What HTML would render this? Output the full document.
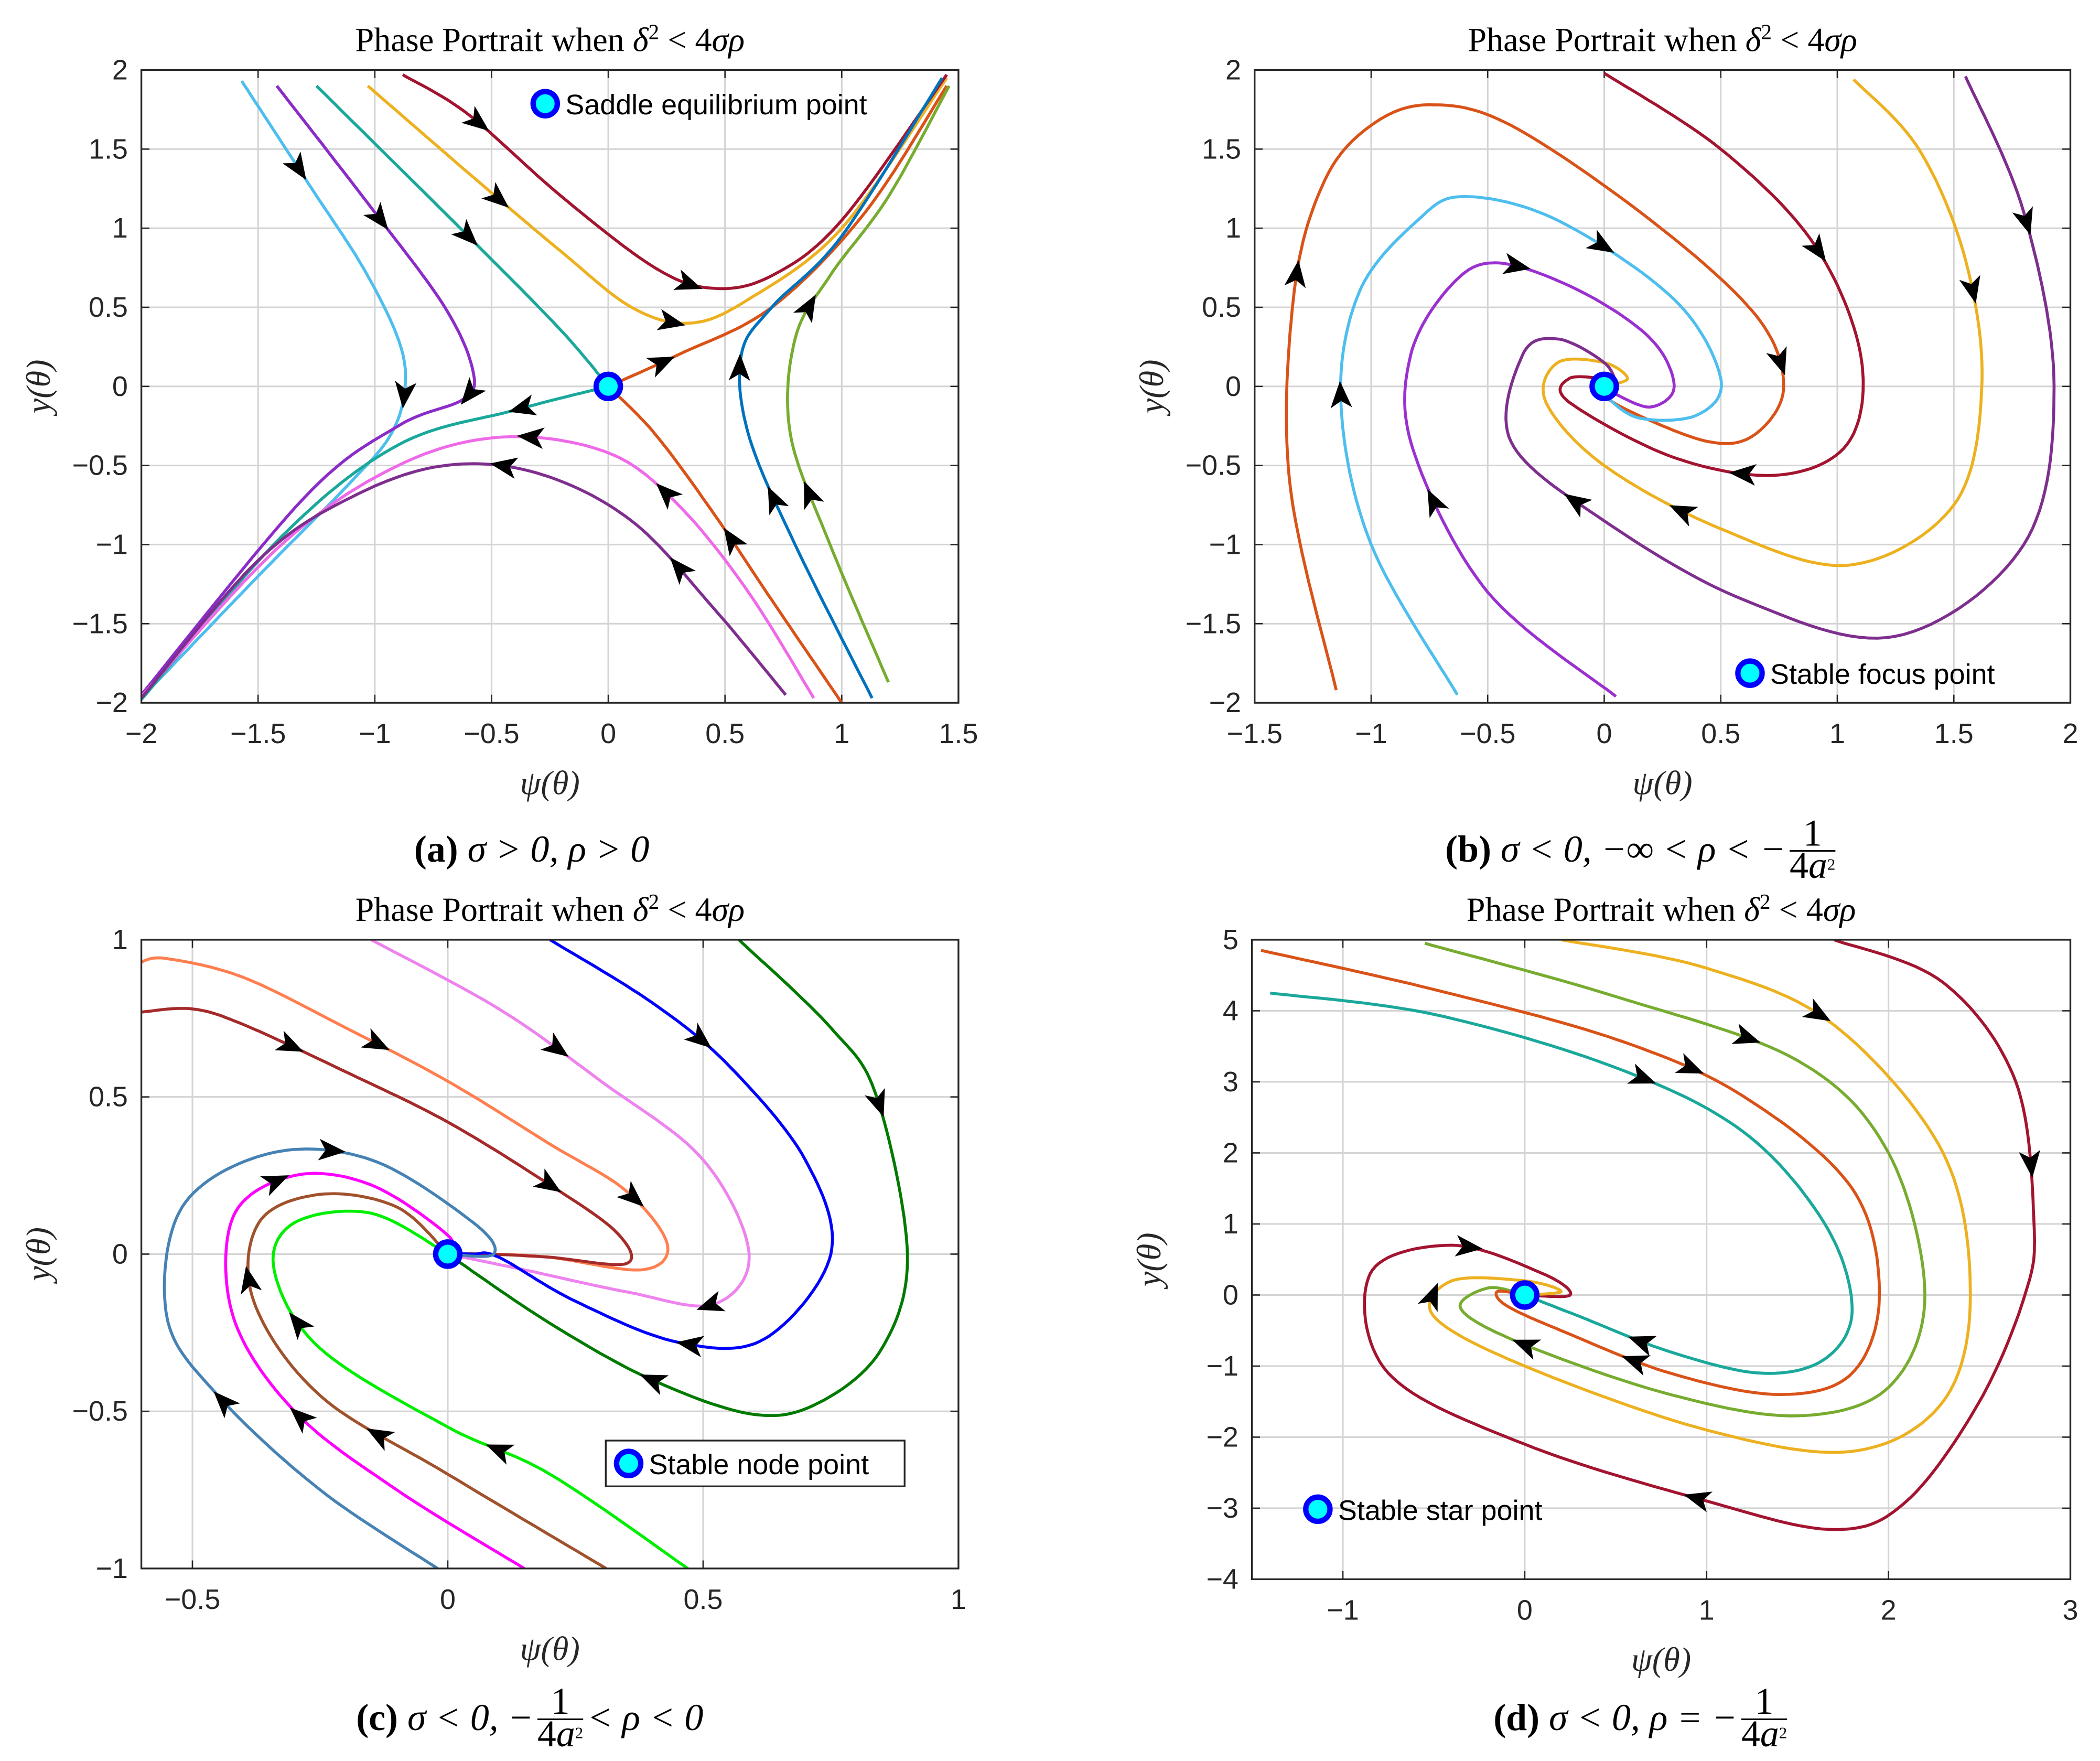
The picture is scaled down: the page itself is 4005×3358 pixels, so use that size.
<!DOCTYPE html>
<html><head><meta charset="utf-8"><style>
html,body{margin:0;padding:0;background:#fff}
svg{display:block}
.tick{font-family:"Liberation Sans",sans-serif;font-size:21px;fill:#262626}
.ttl{font-family:"Liberation Serif",serif;font-size:25px;fill:#000}
.ax{font-family:"Liberation Serif",serif;font-size:25px;font-style:italic;fill:#262626}
.cap{font-family:"Liberation Serif",serif;font-size:28px;fill:#000}
.leg{font-family:"Liberation Sans",sans-serif;font-size:21px;fill:#000}
</style></head><body>
<svg id="fig" width="4005" height="3358" viewBox="0 0 1560 1308" xmlns="http://www.w3.org/2000/svg"></svg>
<script>
// ---- data (phase-space coordinates, listed in flow direction) ----
const curvesA = [
 ["#4DBEEE",[[-1.57,1.93],[-1.27,1.25],[-1.05,0.75],[-0.9,0.3],[-0.87,0],[-0.93,-0.3],[-1.1,-0.6],[-1.5,-1.2],[-2,-1.97]]],
 ["#8B2BC8",[[-1.42,1.9],[-1.0,1.1],[-0.7,0.5],[-0.58,0.1],[-0.62,-0.08],[-0.9,-0.25],[-1.3,-0.7],[-2,-1.95]]],
 ["#1AA89B",[[-1.25,1.9],[-0.6,0.95],[-0.2,0.35],[0,0]]],
 ["#1AA89B",[[0,0],[-0.4,-0.15],[-0.9,-0.37],[-1.4,-0.95],[-2,-1.98]]],
 ["#EDB120",[[-1.03,1.9],[-0.6,1.35],[-0.2,0.85],[0.1,0.5],[0.35,0.4],[0.6,0.55],[1,1.0],[1.45,1.95]]],
 ["#A2142F",[[-0.88,1.97],[-0.6,1.72],[-0.2,1.2],[0.2,0.75],[0.45,0.62],[0.7,0.7],[1.0,1.05],[1.45,1.97]]],
 ["#D95319",[[1,-2],[0.7,-1.35],[0.45,-0.8],[0.2,-0.3],[0,0]]],
 ["#D95319",[[0,0],[0.3,0.2],[0.7,0.5],[1.1,1.1],[1.45,1.9]]],
 ["#0072BD",[[1.13,-1.97],[0.8,-1.0],[0.6,-0.3],[0.57,0.2],[0.7,0.5],[1.0,0.95],[1.43,1.95]]],
 ["#77AC30",[[1.2,-1.87],[0.95,-1.0],[0.78,-0.3],[0.8,0.3],[0.95,0.7],[1.2,1.2],[1.46,1.9]]],
 ["#EE6AE8",[[0.88,-1.97],[0.6,-1.3],[0.3,-0.75],[0,-0.42],[-0.45,-0.32],[-0.9,-0.5],[-1.4,-1.0],[-2,-1.96]]],
 ["#7E2F8E",[[0.76,-1.95],[0.45,-1.4],[0.1,-0.85],[-0.3,-0.55],[-0.7,-0.5],[-1.1,-0.7],[-1.5,-1.1],[-2,-1.97]]]
];
const arrowsA = [[0,0.13],[0,0.47],[1,0.2],[1,0.45],[2,0.5],[3,0.15],[4,0.22],[4,0.5],[5,0.12],[5,0.5],[6,0.5],[7,0.12],[8,0.3],[8,0.5],[9,0.3],[9,0.6],[10,0.28],[10,0.45],[11,0.2],[11,0.45]];
const curvesB = [
 ["#D95319",[[-1.15,-1.92],[-1.35,-0.6],[-1.33,0.6],[-1.2,1.3],[-1.0,1.65],[-0.75,1.78],[-0.4,1.65],[0.2,1.05],[0.65,0.45],[0.77,0],[0.65,-0.3],[0.45,-0.35],[0.1,-0.15],[-0.05,0],[0,0]]],
 ["#4DBEEE",[[-0.63,-1.95],[-1.0,-1.0],[-1.13,-0.1],[-1.05,0.6],[-0.8,1.05],[-0.6,1.2],[-0.2,1.05],[0.3,0.55],[0.5,0.05],[0.4,-0.18],[0.15,-0.2],[0,-0.05],[0,0]]],
 ["#9B30D0",[[0.05,-1.96],[-0.5,-1.3],[-0.82,-0.4],[-0.83,0.2],[-0.65,0.65],[-0.45,0.78],[-0.1,0.6],[0.2,0.3],[0.3,0],[0.2,-0.13],[0.05,-0.05],[0,0]]],
 ["#EDB120",[[1.07,1.94],[1.35,1.5],[1.55,0.8],[1.62,0],[1.5,-0.75],[1.05,-1.13],[0.5,-0.9],[0,-0.5],[-0.25,-0.1],[-0.2,0.15],[0,0.15],[0.1,0.05],[0,0]]],
 ["#A2142F",[[0,1.98],[0.5,1.5],[0.9,0.9],[1.1,0.2],[1.05,-0.35],[0.75,-0.56],[0.3,-0.45],[-0.15,-0.1],[-0.15,0.05],[0,0.05]]],
 ["#7E2F8E",[[1.55,1.96],[1.8,1.1],[1.93,0],[1.8,-1.0],[1.25,-1.58],[0.6,-1.35],[0,-0.85],[-0.4,-0.35],[-0.35,0.2],[-0.2,0.3],[0,0.15],[0.05,0],[0,0]]]
];
const arrowsB = [[0,0.3],[0,0.8],[1,0.3],[1,0.68],[2,0.3],[2,0.66],[3,0.22],[3,0.7],[4,0.32],[4,0.7],[5,0.12],[5,0.76]];
const curvesC = [
 ["#FF7F50",[[-0.6,0.93],[-0.55,0.94],[-0.4,0.88],[-0.2,0.72],[0,0.55],[0.2,0.35],[0.35,0.2],[0.43,0.03],[0.38,-0.05],[0.2,-0.01],[0.08,0],[0,0]]],
 ["#A52A2A",[[-0.6,0.77],[-0.5,0.78],[-0.4,0.73],[-0.2,0.58],[0,0.42],[0.2,0.22],[0.33,0.07],[0.35,-0.03],[0.2,-0.01],[0.08,0],[0,0]]],
 ["#EE82EE",[[-0.15,1],[0.1,0.78],[0.3,0.55],[0.5,0.3],[0.59,0],[0.52,-0.16],[0.35,-0.12],[0.15,-0.05],[0,0]]],
 ["#0000FF",[[0.2,1],[0.4,0.8],[0.55,0.6],[0.7,0.3],[0.75,0],[0.62,-0.27],[0.45,-0.28],[0.25,-0.15],[0.1,-0.01],[0.05,0],[0,0]]],
 ["#007A00",[[0.57,1],[0.75,0.72],[0.84,0.5],[0.9,0],[0.85,-0.3],[0.73,-0.47],[0.6,-0.51],[0.4,-0.4],[0.2,-0.22],[0,0]]],
 ["#4682B4",[[-0.02,-1],[-0.25,-0.75],[-0.45,-0.45],[-0.55,-0.2],[-0.52,0.15],[-0.35,0.32],[-0.15,0.3],[0.05,0.1],[0.09,0],[0,0]]],
 ["#FF00FF",[[0.15,-1],[-0.1,-0.75],[-0.3,-0.5],[-0.42,-0.2],[-0.42,0.12],[-0.3,0.25],[-0.15,0.22],[0,0.06],[0,0]]],
 ["#A0522D",[[0.31,-1],[0,-0.7],[-0.25,-0.45],[-0.38,-0.15],[-0.37,0.1],[-0.25,0.19],[-0.1,0.15],[0,0]]],
 ["#00EE00",[[0.47,-1],[0.2,-0.7],[0,-0.55],[-0.25,-0.3],[-0.34,-0.05],[-0.3,0.1],[-0.15,0.13],[0,0]]]
];
const arrowsC = [[0,0.3],[0,0.65],[1,0.2],[1,0.6],[2,0.25],[2,0.68],[3,0.2],[3,0.7],[4,0.22],[4,0.75],[5,0.3],[5,0.72],[6,0.35],[6,0.72],[7,0.35],[7,0.63],[8,0.3],[8,0.62]];
const curvesD = [
 ["#A2142F",[[1.7,5],[2.3,4.4],[2.7,3],[2.8,1],[2.75,0],[2.5,-1.5],[2.1,-2.9],[1.7,-3.3],[1.0,-2.9],[0,-2.1],[-0.75,-1.1],[-0.85,0.3],[-0.4,0.7],[0.1,0.3],[0.25,0],[0,0]]],
 ["#EDB120",[[0.2,5],[1,4.6],[1.7,3.8],[2.3,2],[2.45,0],[2.3,-1.5],[1.8,-2.2],[1.0,-1.9],[0,-1.0],[-0.5,-0.3],[-0.4,0.2],[0,0.2],[0.2,0.05],[0,0]]],
 ["#77AC30",[[-0.55,4.95],[0.5,4.2],[1.5,3.3],[2.0,2],[2.2,0],[2.0,-1.3],[1.5,-1.7],[0.8,-1.4],[0,-0.7],[-0.35,-0.2],[-0.2,0.1],[0,0]]],
 ["#D95319",[[-1.45,4.85],[-0.5,4.3],[0.5,3.6],[1.2,2.8],[1.8,1.5],[1.95,0],[1.8,-1.1],[1.4,-1.4],[0.8,-1.1],[0.2,-0.5],[-0.1,-0.15],[-0.15,0.05],[0,0]]],
 ["#1AA89B",[[-1.4,4.25],[-0.5,3.95],[0.5,3.2],[1.2,2.3],[1.65,1],[1.8,-0.2],[1.65,-0.9],[1.3,-1.1],[0.8,-0.8],[0.3,-0.3],[0,0]]]
];
const arrowsD = [[0,0.2],[0,0.56],[0,0.9],[1,0.18],[1,0.88],[2,0.25],[2,0.88],[3,0.35],[3,0.85],[4,0.35],[4,0.88]];
const ticksA = [[-2,-1.5,-1,-0.5,0,0.5,1,1.5],[-2,-1.5,-1,-0.5,0,0.5,1,1.5,2]];
const ticksB = [[-1.5,-1,-0.5,0,0.5,1,1.5,2],[-2,-1.5,-1,-0.5,0,0.5,1,1.5,2]];
const ticksC = [[-0.5,0,0.5,1],[-1,-0.5,0,0.5,1]];
const ticksD = [[-1,0,1,2,3],[-4,-3,-2,-1,0,1,2,3,4,5]];

// ---- rendering ----
const NS="http://www.w3.org/2000/svg", svg=document.getElementById('fig');
function mk(tag,attrs,parent){const e=document.createElementNS(NS,tag);for(const k in attrs)e.setAttribute(k,attrs[k]);(parent||svg).appendChild(e);return e;}
function fmt(v){return (v<0?"\u2212":"")+String(Math.abs(v));}
function cr(pts){const out=[];for(let i=0;i<pts.length-1;i++){const p0=pts[Math.max(0,i-1)],p1=pts[i],p2=pts[i+1],p3=pts[Math.min(pts.length-1,i+2)];
 for(let s=0;s<16;s++){const t=s/16,t2=t*t,t3=t2*t;const f=(a,b,c,d)=>0.5*((2*b)+(-a+c)*t+(2*a-5*b+4*c-d)*t2+(-a+3*b-3*c+d)*t3);out.push([f(p0[0],p1[0],p2[0],p3[0]),f(p0[1],p1[1],p2[1],p3[1])]);}}
 out.push(pts[pts.length-1]);return out;}
const panels=[
 {id:"a",L:105,R:712,T:52,B:522,xr:[-2,1.5],yr:[-2,2],ticks:ticksA,curves:curvesA,arrows:arrowsA,eq:[0,0],leg:{x:388,y:60,w:0,txt:"Saddle equilibrium point",box:false},cap:["a","\u03c3 > 0, \u03c1 > 0"],cx:395,cy:640},
 {id:"b",L:932,R:1538,T:52,B:522,xr:[-1.5,2],yr:[-2,2],ticks:ticksB,curves:curvesB,arrows:arrowsB,eq:[0,0],leg:{x:1283,y:483,txt:"Stable focus point",box:false},cap:["b","\u03c3 < 0, \u2212\u221e < \u03c1 < \u2212"],frac:true,tail:"",cx:1220,cy:640},
 {id:"c",L:105,R:712,T:698,B:1165,xr:[-0.6,1],yr:[-1,1],ticks:ticksC,curves:curvesC,arrows:arrowsC,eq:[0,0],leg:{x:450,y:1070,w:222,txt:"Stable node point",box:true},cap:["c","\u03c3 < 0, \u2212"],frac:true,tail:" < \u03c1 < 0",cx:395,cy:1285},
 {id:"d",L:930,R:1538,T:698,B:1173,xr:[-1.5,3],yr:[-4,5],ticks:ticksD,curves:curvesD,arrows:arrowsD,eq:[0,0],leg:{x:962,y:1104,txt:"Stable star point",box:false},cap:["d","\u03c3 < 0, \u03c1 = \u2212"],frac:true,tail:"",cx:1220,cy:1285}
];
panels.forEach(P=>{
 const g=mk('g',{});
 
 
 const X=v=>P.L+(v-P.xr[0])/(P.xr[1]-P.xr[0])*(P.R-P.L);
 const Y=v=>P.B-(v-P.yr[0])/(P.yr[1]-P.yr[0])*(P.B-P.T);
 mk('rect',{x:P.L,y:P.T,width:P.R-P.L,height:P.B-P.T,fill:'#fff'},g);
 const grid=mk('g',{stroke:'#d4d4d4','stroke-width':1.2},g);
 
 
 P.ticks[0].forEach(v=>{mk('line',{x1:X(v),x2:X(v),y1:P.T,y2:P.B},grid);
  const t=mk('text',{x:X(v),y:P.B+30,'text-anchor':'middle',class:'tick'},g);t.textContent=fmt(v);
  
  mk('line',{x1:X(v),x2:X(v),y1:P.B,y2:P.B-6,stroke:'#262626'},g);mk('line',{x1:X(v),x2:X(v),y1:P.T,y2:P.T+6,stroke:'#262626'},g);});
 P.ticks[1].forEach(v=>{mk('line',{x1:P.L,x2:P.R,y1:Y(v),y2:Y(v)},grid);
  const t=mk('text',{x:P.L-10,y:Y(v)+7,'text-anchor':'end',class:'tick'},g);t.textContent=fmt(v);
  
  mk('line',{x1:P.L,x2:P.L+6,y1:Y(v),y2:Y(v),stroke:'#262626'},g);mk('line',{x1:P.R,x2:P.R-6,y1:Y(v),y2:Y(v),stroke:'#262626'},g);});
 const clip=mk('clipPath',{id:'clip'+P.id},g);mk('rect',{x:P.L,y:P.T,width:P.R-P.L,height:P.B-P.T},clip);
 const cg=mk('g',{'clip-path':'url(#clip'+P.id+')'},g);
 const samples=[];
 P.curves.forEach((c,i)=>{
  const pts=cr(c[1].map(p=>[X(p[0]),Y(p[1])]));samples.push(pts);
  const pl=mk('polyline',{points:pts.map(p=>p[0].toFixed(1)+','+p[1].toFixed(1)).join(' '),fill:'none',stroke:c[0],'stroke-width':2.2,'stroke-linejoin':'round'},cg);
  
  
 });
 P.arrows.forEach(a=>{
  const pts=samples[a[0]];let tot=0;const cum=[0];
  for(let i=1;i<pts.length;i++){tot+=Math.hypot(pts[i][0]-pts[i-1][0],pts[i][1]-pts[i-1][1]);cum.push(tot);}
  const target=a[1]*tot;let k=1;while(k<pts.length-1&&cum[k]<target)k++;
  const p=pts[k],q=pts[Math.max(0,k-3)];const ang=Math.atan2(p[1]-q[1],p[0]-q[0])*180/Math.PI;
  const ar=mk('path',{d:'M10,0 L-10,-8 L-5,0 L-10,8 Z',fill:'#000',transform:`translate(${p[0].toFixed(1)},${p[1].toFixed(1)}) rotate(${ang.toFixed(1)})`},cg);
  
  
 });
 const eq=mk('circle',{cx:X(P.eq[0]),cy:Y(P.eq[1]),r:9,fill:'#00FFFF',stroke:'#0000FF','stroke-width':4},g);
 
 
 mk('rect',{x:P.L,y:P.T,width:P.R-P.L,height:P.B-P.T,fill:'none',stroke:'#262626','stroke-width':1.3},g);
 const lg=mk('g',{},g);
 
 
 if(P.leg.box)mk('rect',{x:P.leg.x,y:P.leg.y,width:P.leg.w,height:34,fill:'#fff',stroke:'#262626','stroke-width':1.3},lg);
 mk('circle',{cx:P.leg.x+17,cy:P.leg.y+17,r:9,fill:'#00FFFF',stroke:'#0000FF','stroke-width':4},lg);
 const lt=mk('text',{x:P.leg.x+32,y:P.leg.y+25,class:'leg'},lg);lt.textContent=P.leg.txt;
 const cxp=(P.L+P.R)/2;
 const tt=mk('text',{x:cxp,y:P.T-14,'text-anchor':'middle',class:'ttl'},g);
 
 tt.innerHTML='Phase Portrait when <tspan font-style="italic">\u03b4</tspan><tspan dy="-9" font-size="16">2</tspan><tspan dy="9"> &lt; 4</tspan><tspan font-style="italic">\u03c3\u03c1</tspan>';
 const xl=mk('text',{x:cxp,y:P.B+68,'text-anchor':'middle',class:'ax'},g);xl.textContent='\u03c8(\u03b8)';
 
 const yx=P.L-68,yy=(P.T+P.B)/2;
 const yl=mk('text',{x:yx,y:yy,'text-anchor':'middle',class:'ax',transform:`rotate(-90 ${yx} ${yy})`},g);yl.textContent='y(\u03b8)';
 
 const cg2=mk('g',{},g);
 
 
 const ct=mk('text',{x:0,y:P.cy,class:'cap'},cg2);
 ct.innerHTML='<tspan font-weight="bold">('+P.cap[0]+')</tspan> <tspan font-style="italic">'+P.cap[1]+'</tspan>';
 let w=ct.getComputedTextLength();
 let fw=0;
 if(P.frac){fw=34;
  const n=mk('text',{x:w+3+fw/2,y:P.cy-12,'text-anchor':'middle',class:'cap','font-size':18},cg2);n.textContent='1';
  mk('line',{x1:w+3,x2:w+3+fw,y1:P.cy-8,y2:P.cy-8,stroke:'#000','stroke-width':1.2},cg2);
  const d=mk('text',{x:w+3+fw/2,y:P.cy+12,'text-anchor':'middle',class:'cap','font-size':18},cg2);d.innerHTML='4<tspan font-style="italic">a</tspan><tspan dy="-6" font-size="12">2</tspan>';
  if(P.tail){const tl=mk('text',{x:w+fw+6,y:P.cy,class:'cap','font-style':'italic'},cg2);tl.textContent=P.tail;fw+=tl.getComputedTextLength()+3;}
  fw+=6;}
 cg2.setAttribute('transform',`translate(${P.cx-(w+fw)/2},0)`);
});
</script>
</body></html>
